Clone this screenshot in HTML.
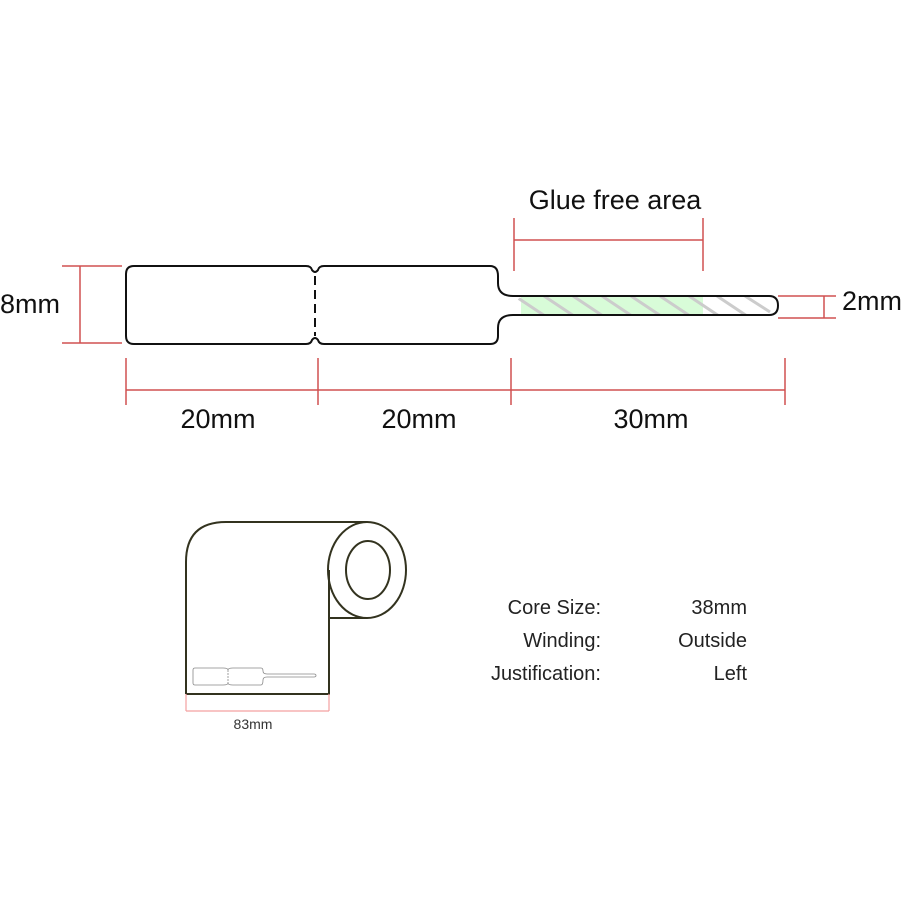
<!DOCTYPE html>
<html><head><style>body{margin:0;background:#fff}svg{display:block}</style></head><body>
<svg width="915" height="915" viewBox="0 0 915 915" xmlns="http://www.w3.org/2000/svg" font-family="Liberation Sans, sans-serif">
<defs><clipPath id="tc"><rect x="516" y="296" width="262" height="19" rx="9"/></clipPath></defs>
<rect x="521" y="297" width="182" height="17" fill="#d8fcd8"/>
<g clip-path="url(#tc)" stroke="#ccc" stroke-width="3">
<line x1="515" y1="296" x2="545" y2="316"/><line x1="544" y1="296" x2="574" y2="316"/><line x1="573" y1="296" x2="603" y2="316"/><line x1="602" y1="296" x2="632" y2="316"/><line x1="631" y1="296" x2="661" y2="316"/><line x1="660" y1="296" x2="690" y2="316"/><line x1="689" y1="296" x2="719" y2="316"/><line x1="717" y1="296" x2="747" y2="316"/><line x1="745" y1="296" x2="770" y2="312"/>
</g>
<path d="M134 266 H306 Q311 266 312 270 Q315 274 318 270 Q319 266 324 266 H490 Q498 266 498 276 V283 Q498 296 513 296 H769 Q778 296 778 305.5 Q778 315 769 315 H513 Q498 315 498 328 V336 Q498 344 490 344 H324 Q319 344 318 340 Q315 336 312 340 Q311 344 306 344 H134 Q126 344 126 336 V274 Q126 266 134 266 Z" fill="none" stroke="#111" stroke-width="2"/>
<line x1="315" y1="276" x2="315" y2="336" stroke="#111" stroke-width="2" stroke-dasharray="9,5"/>
<g stroke="#d05050" stroke-width="1.5" fill="none">
<line x1="62" y1="266" x2="122" y2="266"/><line x1="62" y1="343" x2="122" y2="343"/><line x1="80" y1="266" x2="80" y2="343"/>
<line x1="778" y1="296" x2="836" y2="296"/><line x1="778" y1="318" x2="836" y2="318"/><line x1="824" y1="296" x2="824" y2="318"/>
<line x1="126" y1="390" x2="785" y2="390"/>
<line x1="126" y1="358" x2="126" y2="405"/><line x1="318" y1="358" x2="318" y2="405"/><line x1="511" y1="358" x2="511" y2="405"/><line x1="785" y1="358" x2="785" y2="405"/>
<line x1="514" y1="218" x2="514" y2="271"/><line x1="703" y1="218" x2="703" y2="271"/><line x1="514" y1="240" x2="703" y2="240"/>
</g>
<g font-size="27" fill="#111">
<text x="0" y="313">8mm</text>
<text x="842" y="310">2mm</text>
<text x="218" y="428" text-anchor="middle">20mm</text>
<text x="419" y="428" text-anchor="middle">20mm</text>
<text x="651" y="428" text-anchor="middle">30mm</text>
<text x="615" y="209" text-anchor="middle">Glue free area</text>
</g>
<g stroke="#33331f" stroke-width="2" fill="none">
<path d="M186 694 V562 Q186 522 226 522 H367"/>
<path d="M186 694 H329 V618 H367"/>
<ellipse cx="367" cy="570" rx="39" ry="48"/>
<ellipse cx="368" cy="570" rx="22" ry="29"/>
<line x1="329" y1="570" x2="329" y2="618"/>
</g>
<path d="M195 668 H223 Q228 668 228 670 Q228 668 233 668 H261 Q263 668 263 671 Q263 674 267 674 H314 Q316 674 316 675.5 Q316 677 314 677 H267 Q263 677 263 680 Q263 685 261 685 H233 Q228 685 228 683 Q228 685 223 685 H195 Q193 685 193 683 V670 Q193 668 195 668 Z" fill="none" stroke="#888" stroke-width="0.8"/>
<line x1="228" y1="670" x2="228" y2="683" stroke="#888" stroke-width="0.8" stroke-dasharray="2,1"/>
<g stroke="#f4a0a0" stroke-width="1.2"><line x1="186" y1="711" x2="329" y2="711"/><line x1="186" y1="694" x2="186" y2="711"/><line x1="329" y1="694" x2="329" y2="711"/></g>
<text x="253" y="729" font-size="14" fill="#333" text-anchor="middle">83mm</text>
<g font-size="20" fill="#222">
<text x="601" y="614" text-anchor="end">Core Size:</text>
<text x="601" y="647" text-anchor="end">Winding:</text>
<text x="601" y="680" text-anchor="end">Justification:</text>
<text x="747" y="614" text-anchor="end">38mm</text>
<text x="747" y="647" text-anchor="end">Outside</text>
<text x="747" y="680" text-anchor="end">Left</text>
</g>
</svg>
</body></html>
